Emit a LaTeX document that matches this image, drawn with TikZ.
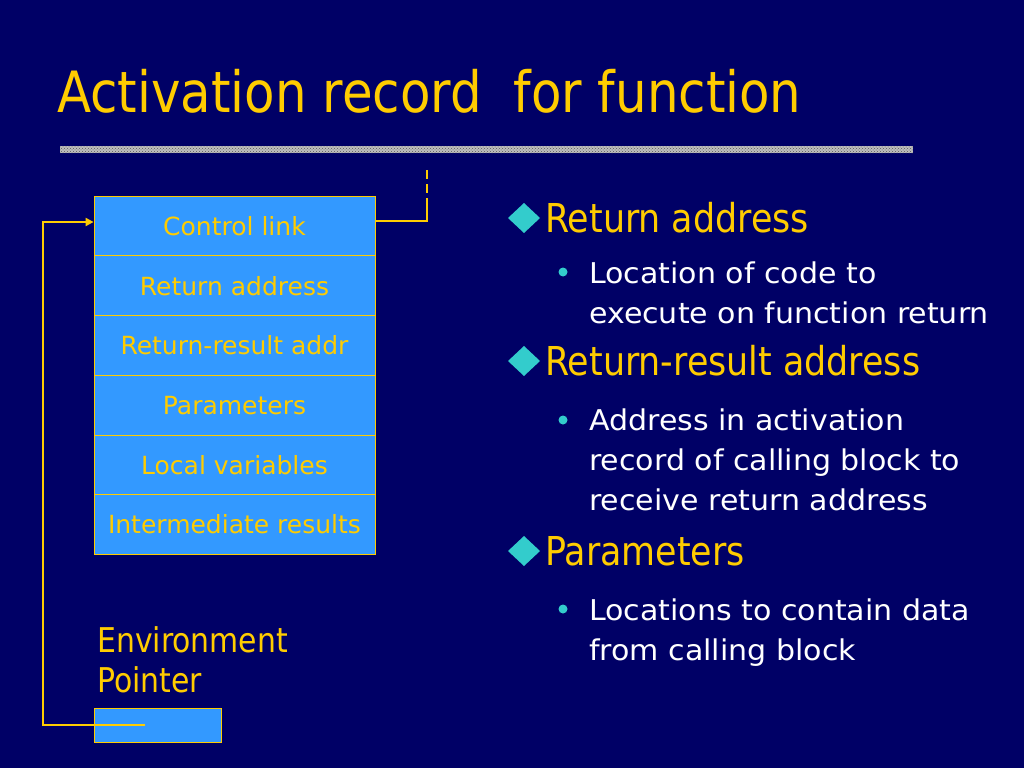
\documentclass[tikz,border=0pt]{standalone}
\usepackage{fontspec}
\setmainfont{DejaVu Sans}
\newfontfamily\narrowfont{DejaVu Sans}[FakeStretch=0.876]
\newfontfamily\widefont{DejaVu Sans}[FakeStretch=1.05]
\usetikzlibrary{arrows.meta,patterns}
\definecolor{navy}{RGB}{0,0,102}
\definecolor{gold}{RGB}{255,204,0}
\definecolor{cellblue}{RGB}{51,153,255}
\definecolor{dotcyan}{RGB}{51,204,204}
\definecolor{bargray}{RGB}{190,190,190}

\begin{document}
\begin{tikzpicture}[x=1pt,y=-1pt,
  cell/.style={draw=gold,line width=0.8pt,fill=cellblue,text=gold,minimum width=281pt,minimum height=59.7pt,inner sep=0pt,font=\fontsize{25}{30}\selectfont},
  head/.style={anchor=base west,inner sep=0pt,text=gold,font=\narrowfont\fontsize{39.8}{48}\selectfont},
  sub/.style={anchor=base west,inner sep=0pt,text=white,font=\widefont\fontsize{28.6}{34}\selectfont},
  link/.style={draw=gold,line width=2pt}]
\fill[navy] (0,0) rectangle (1024,768);
\useasboundingbox (0,0) rectangle (1024,768);
% title and bar
\node [anchor=base west,inner sep=0pt,text=gold,font=\narrowfont\fontsize{56.9}{68}\selectfont] (title) at (57,112) {Activation record~ for function};
\fill[bargray] (60,146) rectangle (913,153);
\fill[pattern=crosshatch dots,pattern color=gray!70!black] (60,146) rectangle (913,153);
% activation record
\node [cell] (r1) at (234.5,226) {Control link};
\node [cell] (r2) at (234.5,285.7) {Return address};
\node [cell] (r3) at (234.5,345.4) {Return-result addr};
\node [cell] (r4) at (234.5,405.1) {Parameters};
\node [cell] (r5) at (234.5,464.8) {Local variables};
\node [cell] (r6) at (234.5,524.5) {Intermediate results};
% environment pointer
\node [anchor=base west,inner sep=0pt,text=gold,font=\narrowfont\fontsize{34.1}{40}\selectfont] (envA) at (97,652) {Environment};
\node [anchor=base west,inner sep=0pt,text=gold,font=\narrowfont\fontsize{34.1}{40}\selectfont] (envB) at (97,692) {Pointer};
\node [cell,minimum width=127pt,minimum height=34pt] (env) at (157.5,725) {};
% links
\coordinate (top) at (427,170);
\coordinate (knee) at (427,199);
\draw[link] ([yshift=5pt]r1.east) -| (knee);
\draw[link,dash pattern=on 9pt off 5pt] (top) -- (knee);
\coordinate (ptr) at (145,725);
\coordinate (corner) at (43,725);
\draw[link,-{Triangle[length=8pt,width=8pt]}] (ptr) -- (corner) |- ([yshift=4pt]r1.west);
% bullets
\fill[dotcyan] (508,218) -- (524,203) -- (540,218) -- (524,233) -- cycle;
\fill[dotcyan] (508,361) -- (524,346) -- (540,361) -- (524,376) -- cycle;
\fill[dotcyan] (508,551) -- (524,536) -- (540,551) -- (524,566) -- cycle;
\fill[dotcyan] (563,272) circle (4.5);
\fill[dotcyan] (563,420) circle (4.5);
\fill[dotcyan] (563,609) circle (4.5);
\node [head] (ra) at (545,232) {Return address};
\node [sub] (ra1) at (589,283) {Location of code to};
\node [sub] (ra2) at (589,323) {execute on function return};
\node [head] (rr) at (545,375) {Return-result address};
\node [sub] (rr1) at (589,430) {Address in activation};
\node [sub] (rr2) at (589,470) {record of calling block to};
\node [sub] (rr3) at (589,510) {receive return address};
\node [head] (pa) at (545,565) {Parameters};
\node [sub] (pa1) at (589,620) {Locations to contain data};
\node [sub] (pa2) at (589,660) {from calling block};
\end{tikzpicture}
\end{document}
